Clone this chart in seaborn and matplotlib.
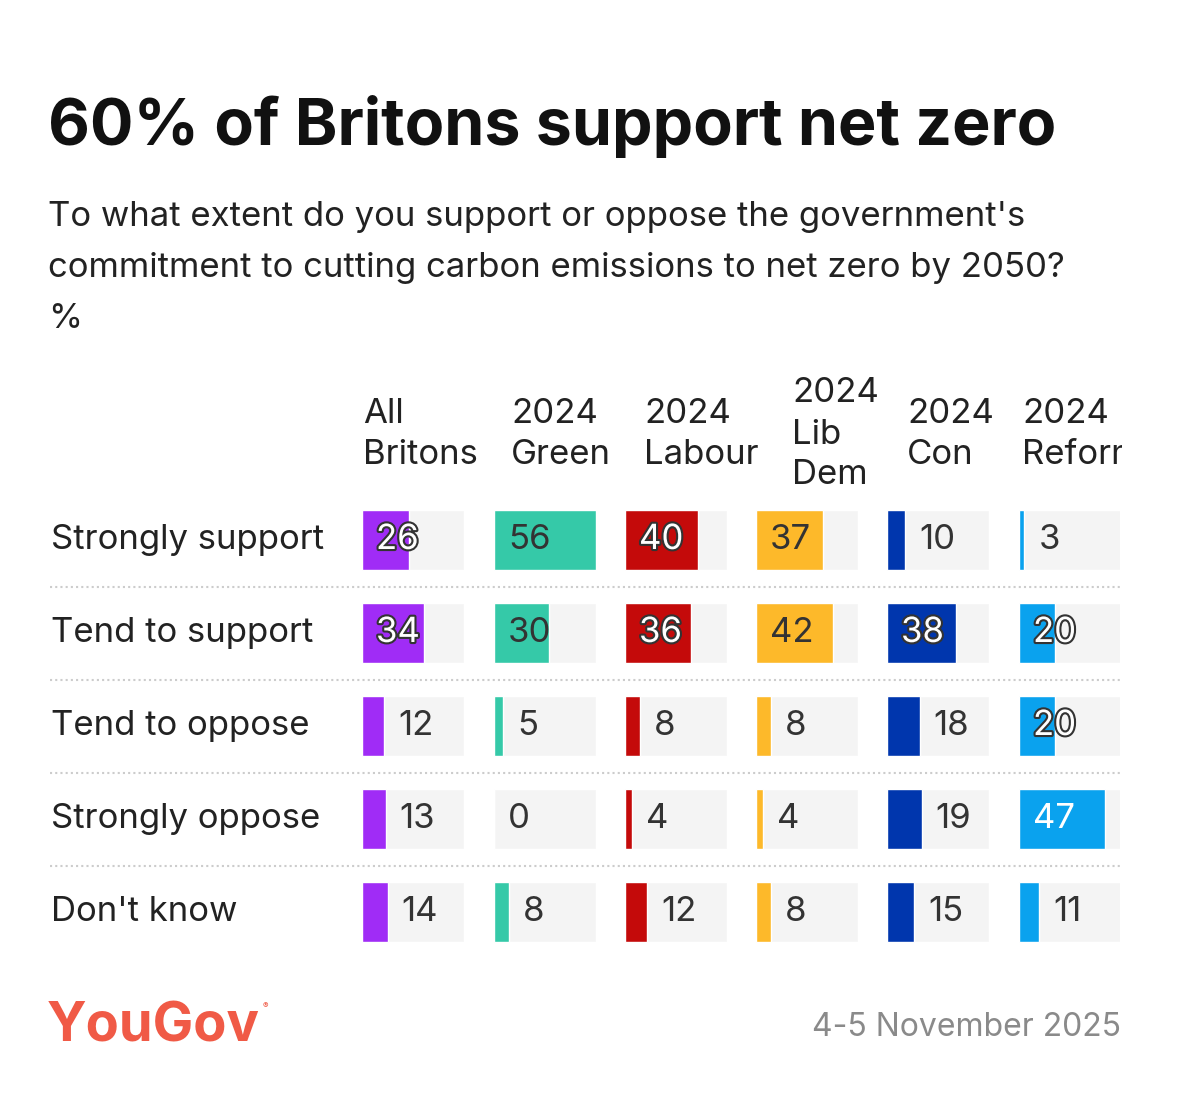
import matplotlib.pyplot as plt
import matplotlib.patheffects as pe
import pandas as pd
import seaborn as sns

# data
answers = ["Strongly support", "Tend to support", "Tend to oppose", "Strongly oppose", "Don't know"]
groups = ["All\nBritons", "2024\nGreen", "2024\nLabour", "2024\nLib\nDem", "2024\nCon", "2024\nReform"]
all_britons = [26, 34, 12, 13, 14]
green = [56, 30, 5, 0, 8]
labour = [40, 36, 8, 4, 12]
libdem = [37, 42, 8, 4, 8]
con = [10, 38, 18, 19, 15]
reform = [3, 20, 20, 47, 11]
colors = ["#a02cf6", "#35c9a8", "#c40a0a", "#fdb92a", "#0036ad", "#0aa2ee"]
# labels drawn white with outline
outlined = {(0, 0), (0, 1), (2, 0), (2, 1), (4, 1), (5, 1), (5, 2)}
white_plain = {(5, 3)}

W, H = 1177, 1107
FS = 25
sns.set_theme(style="white")
plt.rcParams['font.family'] = ['Inter', 'DejaVu Sans']
fig = plt.figure(figsize=(W / 100, H / 100), dpi=100)
fig.patch.set_facecolor("white")

# overlay for text in pixel coordinates
ov = fig.add_axes([0, 0, 1, 1])
ov.set_xlim(0, W)
ov.set_ylim(H, 0)
ov.axis("off")

ov.text(48, 127, "60% of Britons support net zero", fontsize=46.5, fontweight="bold", va="center", color="#111111")
ov.text(48, 217, "To what extent do you support or oppose the government's", fontsize=FS, va="center", color="#222222")
ov.text(48, 268, "commitment to cutting carbon emissions to net zero by 2050?", fontsize=FS, va="center", color="#222222")
ov.text(48, 319, "%", fontsize=FS, va="center", color="#222222")

x_starts = [362, 494, 625, 756, 887, 1019]
head_x = [363, 511, 644, 792, 907, 1022]
cell_w = 102
row_y = [540, 633, 726, 819, 912]
for j, yy in enumerate(row_y):
    ov.text(51, yy, answers[j], fontsize=FS, va="center", color="#222222")
for yy in [587, 680, 773, 866]:
    ov.plot([50, 1120], [yy, yy], color="#cccccc", lw=1.5, ls=(0, (1, 1.5)))

# header texts, each in its own clipping axes
for i, g in enumerate(groups):
    left = head_x[i] - 2
    right = 1122 if i == len(groups) - 1 else left + 130
    hx = fig.add_axes([left / W, (H - 500) / H, (right - left) / W, 140 / H])
    hx.set_xlim(left, right)
    hx.set_ylim(500, 360)
    hx.axis("off")
    lines = g.split("\n")
    first = 434.5 - 41 * (len(lines) - 1) / 2
    for k, ln in enumerate(lines):
        hx.text(head_x[i], first + 41 * k, ln, fontsize=FS, va="center", color="#222222", clip_on=True)

ov.text(47, 1027, "YouGov", fontsize=39, fontweight="bold", color="#f05a46", va="center")
ov.text(263, 1006, "®", fontsize=6, color="#f05a46", va="center")
ov.text(1121, 1027, "4-5 November 2025", fontsize=23, color="#8a8a8a", va="center", ha="right")

series = [all_britons, green, labour, libdem, con, reform]
top = row_y[0] - 46.5
height = 93 * 5
px = 56 / cell_w  # data units per pixel
for i, vals in enumerate(series):
    w = min(cell_w, 1120 - x_starts[i])
    ax = fig.add_axes([x_starts[i] / W, (H - top - height) / H, w / W, height / H])
    df = pd.DataFrame({"answer": answers, "value": vals, "bg": [56] * 5})
    sns.barplot(data=df, y="answer", x="bg", color="#f4f4f4", width=0.645, ax=ax, saturation=1)
    sns.barplot(data=df, y="answer", x="value", color=colors[i], width=0.645, ax=ax, saturation=1)
    ax.set_xlim(0, 56 * w / cell_w)
    ax.set_ylim(4.5, -0.5)
    ax.axis("off")
    for j, v in enumerate(vals):
        if (i, j) in outlined:
            ax.text(14 * px, j, str(v), fontsize=FS, va="center", color="white",
                    path_effects=[pe.withStroke(linewidth=3, foreground="#333333")])
        elif (i, j) in white_plain:
            ax.text(14 * px, j, str(v), fontsize=FS, va="center", color="white")
        elif v >= 30:
            ax.text(14 * px, j, str(v), fontsize=FS, va="center", color="#333333")
        else:
            ax.text(v + 14 * px, j, str(v), fontsize=FS, va="center", color="#333333")

fig.savefig("out.png", dpi=100)
